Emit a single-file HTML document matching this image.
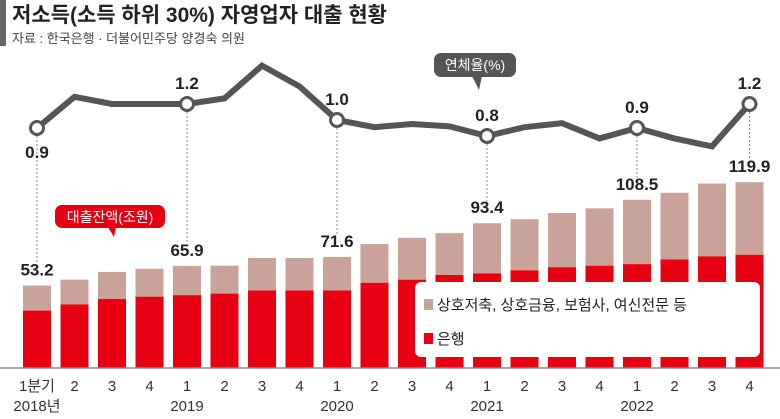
<!DOCTYPE html>
<html><head><meta charset="utf-8"><style>
body{margin:0;background:#fff;font-family:"Liberation Sans","Noto Sans CJK KR",sans-serif;}
svg text{font-family:"Liberation Sans","Noto Sans CJK KR",sans-serif;}
</style></head><body>
<svg id="c" width="780" height="414" viewBox="0 0 780 414">
<rect x="0" y="0" width="6" height="46" fill="#666"/>
<text x="12" y="22" font-size="21" font-weight="bold" fill="#222">저소득(소득 하위 30%) 자영업자 대출 현황</text>
<text x="12" y="43" font-size="13" fill="#444">자료 : 한국은행 · 더불어민주당 양경숙 의원</text>
<g id="bars"></g>
<g id="line"></g>
<line x1="0" y1="368" x2="780" y2="368" stroke="#888" stroke-width="1.5"/>
<g id="xt"></g>
<g>
<rect x="415" y="282" width="345" height="75" rx="6" fill="#fff"/>
<rect x="424" y="299" width="9" height="11" fill="#c9a39a"/>
<text x="437" y="310" font-size="15" fill="#222">상호저축, 상호금융, 보험사, 여신전문 등</text>
<rect x="424" y="333" width="9" height="11" fill="#e60012"/>
<text x="437" y="344" font-size="15" fill="#222">은행</text>
</g>
<g>
<rect x="55" y="205" width="110" height="23" rx="7" fill="#e60012"/>
<path d="M108 227 L114 237 L116 227 Z" fill="#e60012"/>
<text x="110" y="222" font-size="14" fill="#fff" text-anchor="middle">대출잔액(조원)</text>
</g>
<g>
<rect x="434" y="53" width="82" height="24" rx="7" fill="#555"/>
<path d="M472 76 L479 90 L482 76 Z" fill="#555"/>
<text x="475" y="70" font-size="14" fill="#fff" text-anchor="middle">연체율(%)</text>
</g>
</svg>
<script>
const quarters=["1분기","2","3","4","1","2","3","4","1","2","3","4","1","2","3","4","1","2","3","4"];
const years=["2018년","2019","2020","2021","2022"];
const totalLoans=[53.2,57,62,64,65.9,66,71,71,71.6,80,84,87,93.4,96,100,103,108.5,113,119,119.9];
const bankLoans=[37,41,44.5,46,47,48,50,50,50,55,57,60,61,63,65,66,67,70,72,73];
const delinq=[0.9,1.29,1.2,1.2,1.2,1.27,1.68,1.42,1.0,0.91,0.95,0.92,0.8,0.91,0.96,0.77,0.9,0.77,0.67,1.2];
const markedIdx=[0,4,8,12,16,19];
const NS="http://www.w3.org/2000/svg";
const X=i=>37+i*37.5;
const Y=v=>368-v*1.55;
const LY=v=>128-(v-0.9)*80;
function mk(t,a,p){const e=document.createElementNS(NS,t);for(const k in a)e.setAttribute(k,a[k]);p.appendChild(e);return e;}
const bars=document.getElementById('bars'),line=document.getElementById('line'),xt=document.getElementById('xt');
totalLoans.forEach((t,i)=>{
 const b=bankLoans[i];
 const r1=mk('rect',{x:X(i)-14,y:Y(t),width:28,height:Y(b)-Y(t),fill:'#c9a39a'},bars);
 
 
 const r2=mk('rect',{x:X(i)-14,y:Y(b),width:28,height:368-Y(b),fill:'#e60012'},bars);
 
 
 const q=mk('text',{x:X(i),y:391,'font-size':15,fill:'#333','text-anchor':'middle'},xt);q.textContent=quarters[i];
 
 
});
years.forEach((y,k)=>{
 const t=mk('text',{x:X(k*4),y:411,'font-size':15,fill:'#333','text-anchor':'middle'},xt);t.textContent=y;
 
 
});
markedIdx.forEach(i=>{
 const d=mk('line',{x1:X(i),y1:LY(delinq[i])+8,x2:X(i),y2:Y(totalLoans[i])-22,stroke:'#888','stroke-dasharray':'2,2'},line);
 
 
 const v=mk('text',{x:X(i),y:Y(totalLoans[i])-10,'font-size':17,'font-weight':'bold',fill:'#222','text-anchor':'middle'},line);
 v.textContent=totalLoans[i].toFixed(1);
 
 
});
const pl=mk('polyline',{points:delinq.map((v,i)=>X(i)+','+LY(v)).join(' '),fill:'none',stroke:'#555','stroke-width':6,'stroke-linejoin':'miter'},line);


markedIdx.forEach(i=>{
 const c=mk('circle',{cx:X(i),cy:LY(delinq[i]),r:6.5,fill:'#fff',stroke:'#555','stroke-width':3},line);
 
 
 const below=(i===0);
 const t=mk('text',{x:X(i),y:below?LY(delinq[i])+30:LY(delinq[i])-15,'font-size':17,'font-weight':'bold',fill:'#222','text-anchor':'middle'},line);
 t.textContent=delinq[i].toFixed(1);
 
 
});
</script>
</body></html>
